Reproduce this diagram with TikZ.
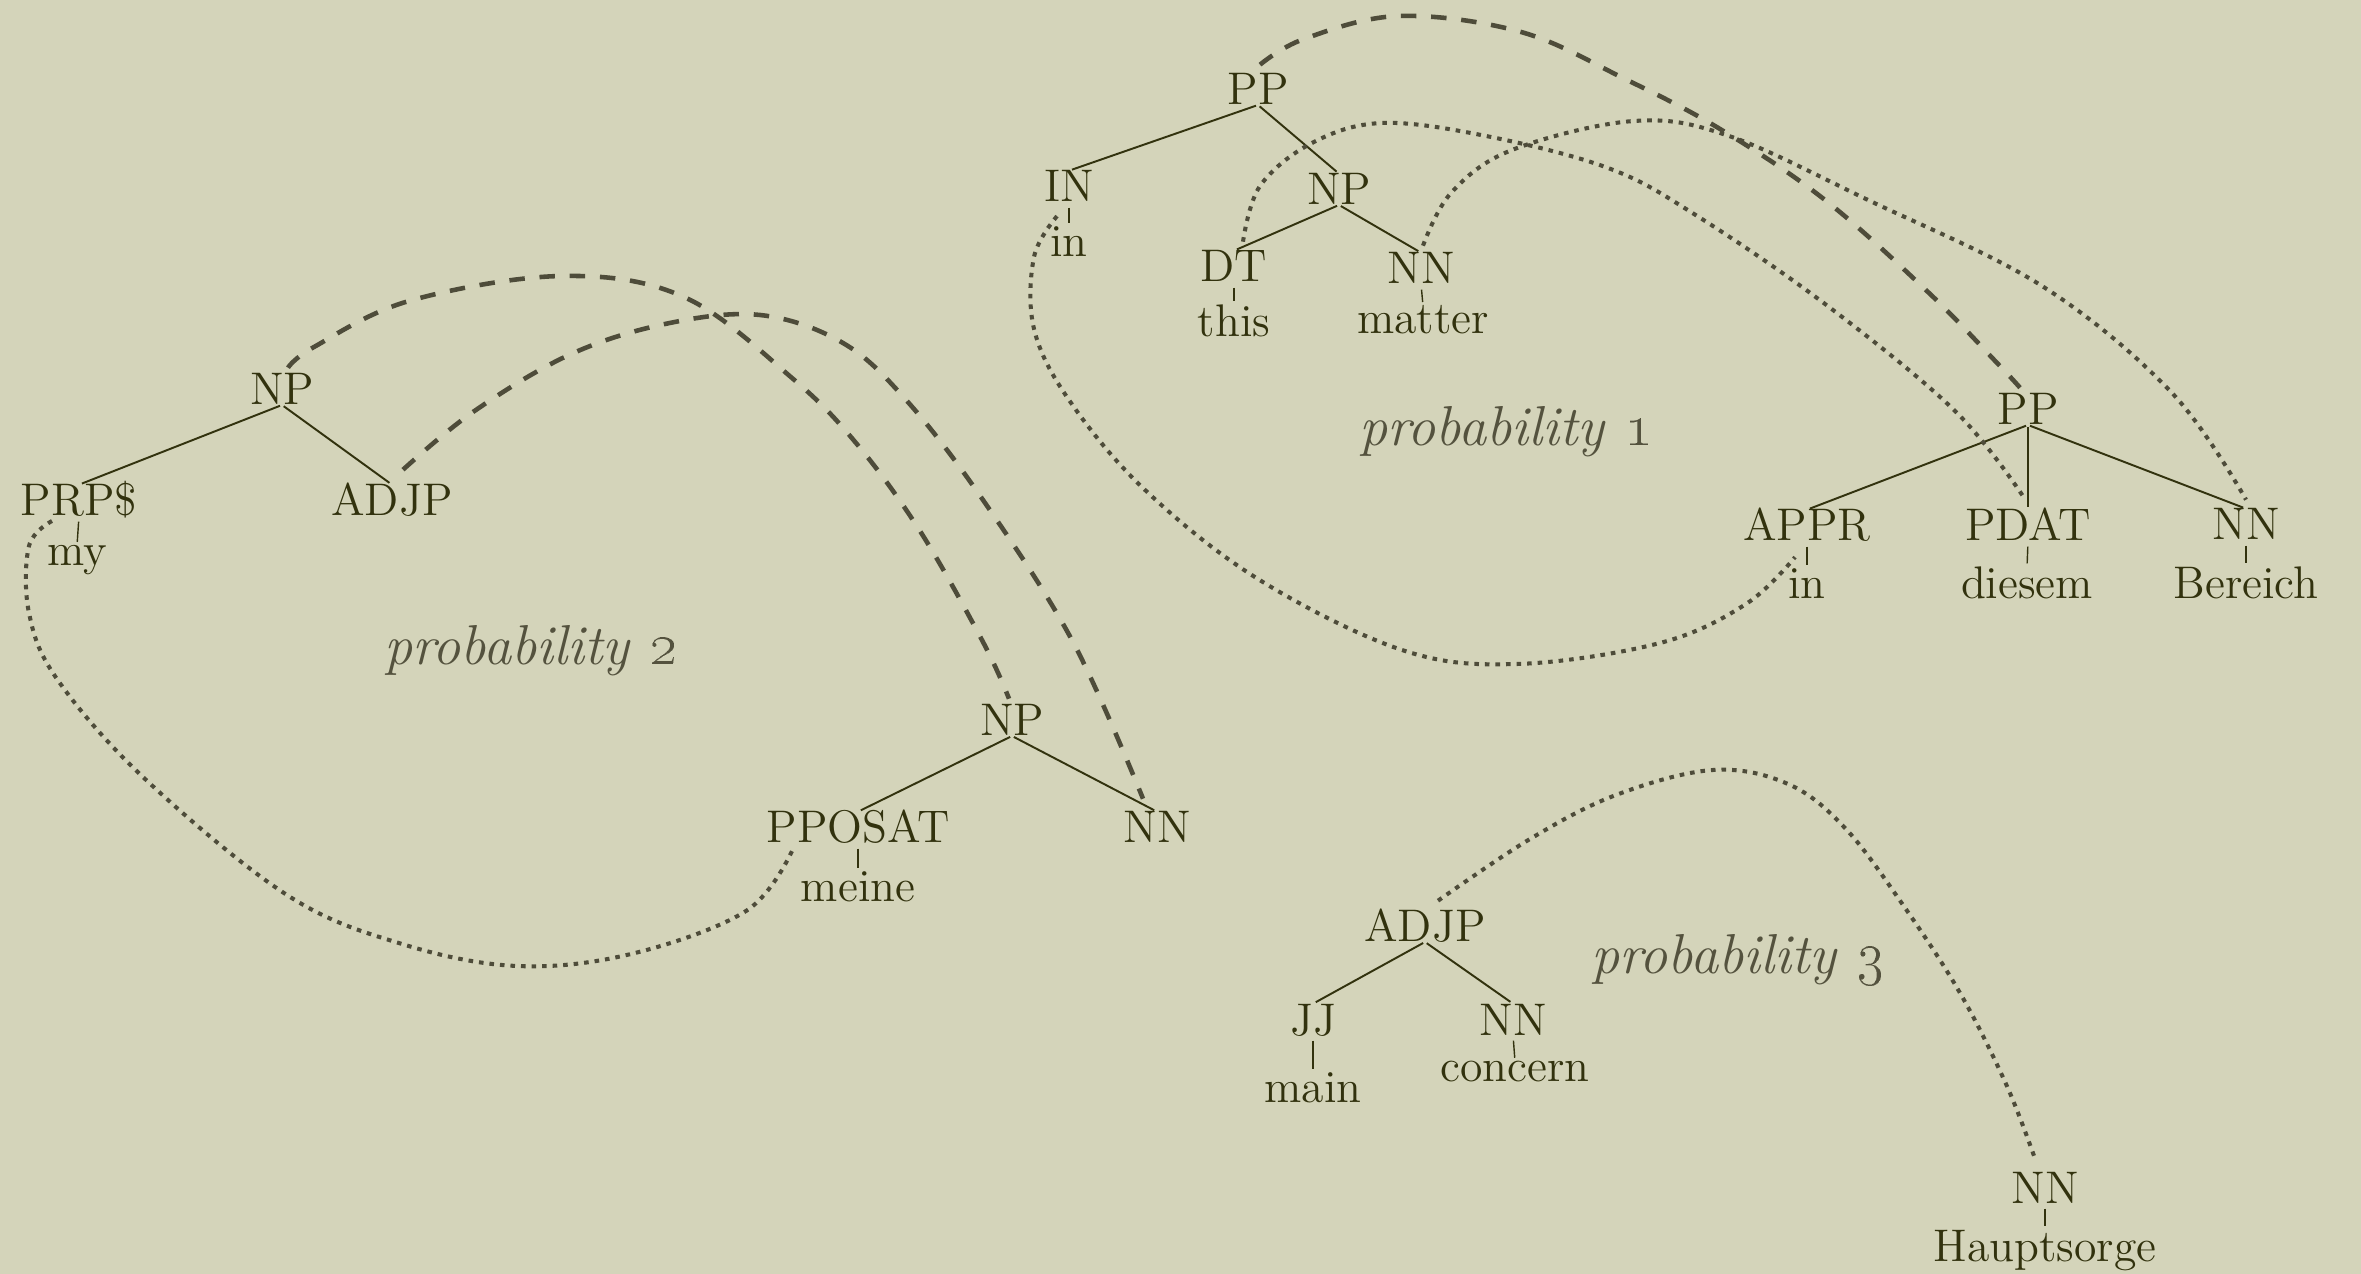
\documentclass[tikz,border=0pt]{standalone}
\usetikzlibrary{calc}

\definecolor{paper}{RGB}{212,212,186}
\definecolor{ink}{RGB}{50,50,14}
\definecolor{faint}{RGB}{84,82,62}
\definecolor{linkink}{RGB}{78,76,58}

\tikzset{
  cat/.style={anchor=base, inner sep=0pt, outer sep=0pt, text=ink,
    text height=8.9pt, text depth=0pt, font=\fontsize{13}{15}\selectfont},
  word/.style={anchor=base, inner sep=0pt, outer sep=0pt, text=ink,
    font=\fontsize{13}{15}\selectfont},
  branch/.style={draw=ink, line width=0.55pt, shorten <=0.6pt, shorten >=0.9pt},
  tick/.style={draw=ink, line width=0.4pt, shorten <=1.6pt, shorten >=1.1pt},
  link/.style={draw=linkink, line width=1.3pt, dash pattern=on 4.4pt off 4.2pt},
  dotlink/.style={draw=linkink, line width=1.15pt, dash pattern=on 1.3pt off 1.7pt},
  prob/.style={anchor=base, inner sep=0pt, text=faint,
    font=\fontsize{16}{19}\selectfont\itshape},
}

\begin{document}
\begin{tikzpicture}[x=0.01cm, y=-0.01cm]
  % paper
  \fill[paper] (0,0) rectangle (2361,1274);
  \useasboundingbox (0,0) rectangle (2361,1274);

  % ---- English PP: in this matter ----
  \node[cat] (pp1) at (1258,105) {PP};
  \node[cat] (in1) at (1069,202) {IN};
  \node[cat] (np1) at (1339,205) {NP};
  \node[cat] (dt1) at (1234,282) {DT};
  \node[cat] (nn1) at (1421,284) {NN};
  \node[word] (win1) at (1069,257) {in};
  \node[word] (wthis) at (1234,337) {this};
  \node[word] (wmatter) at (1423,334) {matter};

  % ---- German PP: in diesem Bereich ----
  \node[cat] (pp2) at (2028,425) {PP};
  \node[cat] (appr) at (1807,541) {APPR};
  \node[cat] (pdat) at (2028,541) {PDAT};
  \node[cat] (nn2) at (2246,540) {NN};
  \node[word] (win2) at (1807,599) {in};
  \node[word] (wdiesem) at (2027,599) {diesem};
  \node[word] (wbereich) at (2246,599) {Bereich};

  % ---- English NP: my ... ----
  \node[cat] (npl) at (282,405) {NP};
  \node[cat] (prp) at (79,516) {PRP\$};
  \node[cat] (adjpl) at (392,516) {ADJP};
  \node[word] (wmy) at (77,566) {my};

  % ---- German NP: meine ... ----
  \node[cat] (npg) at (1012,736) {NP};
  \node[cat] (pposat) at (858,843) {PPOSAT};
  \node[cat] (nng) at (1157,843) {NN};
  \node[word] (wmeine) at (858,902) {meine};

  % ---- English ADJP: main concern ----
  \node[cat] (adjpb) at (1425,942) {ADJP};
  \node[cat] (jj) at (1313,1035) {JJ};
  \node[cat] (nnc) at (1513,1035) {NN};
  \node[word] (wmain) at (1313,1103) {main};
  \node[word] (wconcern) at (1515,1082) {concern};

  % ---- German NN: Hauptsorge ----
  \node[cat] (nnh) at (2045,1203) {NN};
  \node[word] (whaupt) at (2045,1261) {Hauptsorge};

  % probabilities
  \node[prob] (prob1) at (1506,446) {probability \oldstylenums{1}};
  \node[prob] (prob2) at (531,665) {probability \oldstylenums{2}};
  \node[prob] (prob3) at (1738,974) {probability \oldstylenums{3}};

  % branches
  \foreach \p/\c in {pp1/in1, pp1/np1, np1/dt1, np1/nn1,
                     pp2/appr, pp2/pdat, pp2/nn2,
                     npl/prp, npl/adjpl,
                     npg/pposat, npg/nng,
                     adjpb/jj, adjpb/nnc}
    \draw[branch] (\p.south) -- (\c.north);

  % leaf ticks
  \foreach \p/\c in {in1/win1, dt1/wthis, nn1/wmatter,
                     appr/win2, pdat/wdiesem, nn2/wbereich,
                     prp/wmy, pposat/wmeine,
                     jj/wmain, nnc/wconcern, nnh/whaupt}
    \draw[tick] (\p.south) -- (\c.north);

  % ---- alignment links: end points ----
  \coordinate (a1) at ($(pp1.north)+(2,-9)$);
  \coordinate (a2) at ($(pp2.north)+(-8,-6)$);
  \coordinate (b1) at ($(dt1.north)+(9,-9)$);
  \coordinate (b2) at ($(pdat.north)+(-4,-12)$);
  \coordinate (c1) at ($(nn1.north)+(2,-7)$);
  \coordinate (c2) at ($(nn2.north)+(0,-9)$);
  \coordinate (d1) at ($(win1.north)+(-12,-11)$);
  \coordinate (d2) at ($(win2.north)+(-12,-12)$);
  \coordinate (e1) at ($(npl.north)+(6,-6)$);
  \coordinate (e2) at ($(npg.north)+(-3,-6)$);
  \coordinate (f1) at ($(adjpl.north)+(11,-15)$);
  \coordinate (f2) at ($(nng.north)+(-14,-13)$);
  \coordinate (g1) at ($(prp.south)+(-27,5)$);
  \coordinate (g2) at ($(pposat.south)+(-66,8)$);
  \coordinate (h1) at ($(adjpb.north)+(13,-10)$);
  \coordinate (h2) at ($(nnh.north)+(-10,-13)$);

  % PP -- PP
  \draw[link] plot[smooth, tension=0.6] coordinates
    {(a1) (1304,39) (1399,16) (1521,32) (1625,79) (1720,129) (1825,200)
     (1929,293) (1998,364) (a2)};
  % NP -- NP
  \draw[link] plot[smooth, tension=0.6] coordinates
    {(e1) (314,347) (409,301) (562,276) (684,297) (792,378) (856,443)
     (920,531) (983,642) (e2)};
  % ADJP -- NN
  \draw[link] plot[smooth, tension=0.6] coordinates
    {(f1) (473,412) (569,355) (665,324) (760,315) (843,343) (907,401)
     (983,500) (1073,642) (f2)};

  % this -- diesem
  \draw[dotlink] plot[smooth, tension=0.6] coordinates
    {(b1) (1260,186) (1312,143) (1382,123) (1486,136) (1608,168) (1694,214)
     (1825,304) (1955,411) (b2)};
  % matter -- Bereich
  \draw[dotlink] plot[smooth, tension=0.6] coordinates
    {(c1) (1451,193) (1512,150) (1634,121) (1729,136) (1868,200) (2042,286)
     (2172,393) (c2)};
  % in -- in
  \draw[dotlink] plot[smooth, tension=0.6] coordinates
    {(d1) (1034,257) (1034,329) (1069,400) (1144,489) (1258,579) (1402,650)
     (1517,664) (1660,643) (1746,604) (d2)};
  % my -- meine
  \draw[dotlink] plot[smooth, tension=0.6] coordinates
    {(g1) (29,546) (29,613) (57,679) (144,778) (287,895) (402,944) (517,966)
     (631,954) (746,911) (g2)};
  % main concern -- Hauptsorge
  \draw[dotlink] plot[smooth, tension=0.6] coordinates
    {(h1) (1530,839) (1616,795) (1713,770) (1788,784) (1845,828) (1903,905)
     (1960,993) (2006,1084) (h2)};
\end{tikzpicture}
\end{document}
